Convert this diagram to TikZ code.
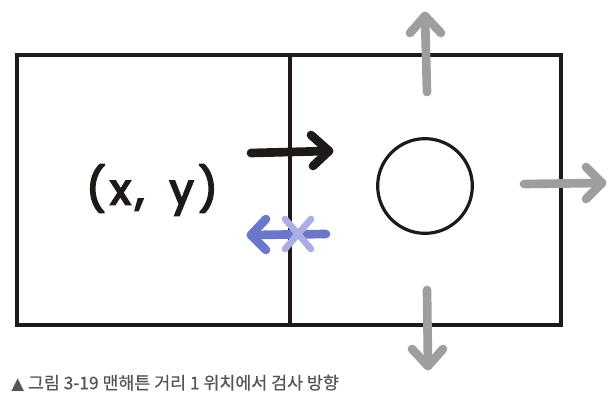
\documentclass[tikz,border=0pt]{standalone}
\usepackage{fontspec}
\setmainfont{Poppins}
\newfontfamily\hand[LetterSpace=11,WordSpace=1.6,FakeBold=4.5]{Poppins}
\newfontfamily\kr[FakeBold=0.6]{Noto Sans CJK KR}
\newfontfamily\sym{DejaVu Sans}
\definecolor{ink}{HTML}{1E1A18}
\definecolor{arrgray}{HTML}{9E9E9E}
\definecolor{blueA}{HTML}{6B77C9}
\definecolor{blueX}{HTML}{AAAEE4}
\definecolor{captc}{HTML}{555555}
\begin{document}
\begin{tikzpicture}[x=0.75pt,y=-0.75pt,
  boxline/.style={draw=ink,line width=2.4pt},
  fatarrow/.style={line width=6.5pt,line cap=round,line join=round},
  lbl/.style={inner sep=0pt}]
\useasboundingbox (0,0) rectangle (614,410);
% boxes
\draw[boxline] (17,55) rectangle (290,325);
\draw[boxline] (290,55) rectangle (561,325);
\node[circle,draw=ink,line width=2.4pt,minimum size=71pt,inner sep=0pt] (c) at (425,186) {};
\node[lbl,text=ink,font=\hand\fontsize{32}{34}\selectfont] (xy) at (152,190) {(x, y)};
% coordinates
\coordinate (bS) at (251,153); \coordinate (bT) at (329,151);
\coordinate (uS) at (427,92); \coordinate (uT) at (425,16);
\coordinate (dS) at (427,290); \coordinate (dT) at (428,366);
\coordinate (rS) at (524,184); \coordinate (rT) at (602,183);
\coordinate (lS) at (326,234); \coordinate (lT) at (251,235);
% black arrow
\draw[fatarrow,draw=ink] (bS) -- (bT);
\draw[fatarrow,draw=ink] (311,135) -- (bT) -- (313,166);
% gray arrows
\draw[fatarrow,draw=arrgray] (uS) -- (uT);
\draw[fatarrow,draw=arrgray] (410,33) -- (uT) -- (441,33);
\draw[fatarrow,draw=arrgray] (dS) -- (dT);
\draw[fatarrow,draw=arrgray] (412,349) -- (dT) -- (443,349);
\draw[fatarrow,draw=arrgray] (rS) -- (rT);
\draw[fatarrow,draw=arrgray] (586,167) -- (rT) -- (586,199);
% blue arrow
\draw[fatarrow,draw=blueA] (lS) -- (lT);
\draw[fatarrow,draw=blueA] (266,219) -- (lT) -- (266,250);
% X mark
\draw[fatarrow,draw=blueX,line width=5pt] (285,219) -- (311,249);
\draw[fatarrow,draw=blueX,line width=5pt] (311,219) -- (285,249);
% caption
\node[lbl,anchor=west,text=captc,font=\kr\fontsize{13}{15}\selectfont] (cap) at (11,383) {{\sym\fontsize{12.5}{15}\selectfont ▲} 그림 3-19 맨해튼 거리 1 위치에서 검사 방향};
\end{tikzpicture}
\end{document}
